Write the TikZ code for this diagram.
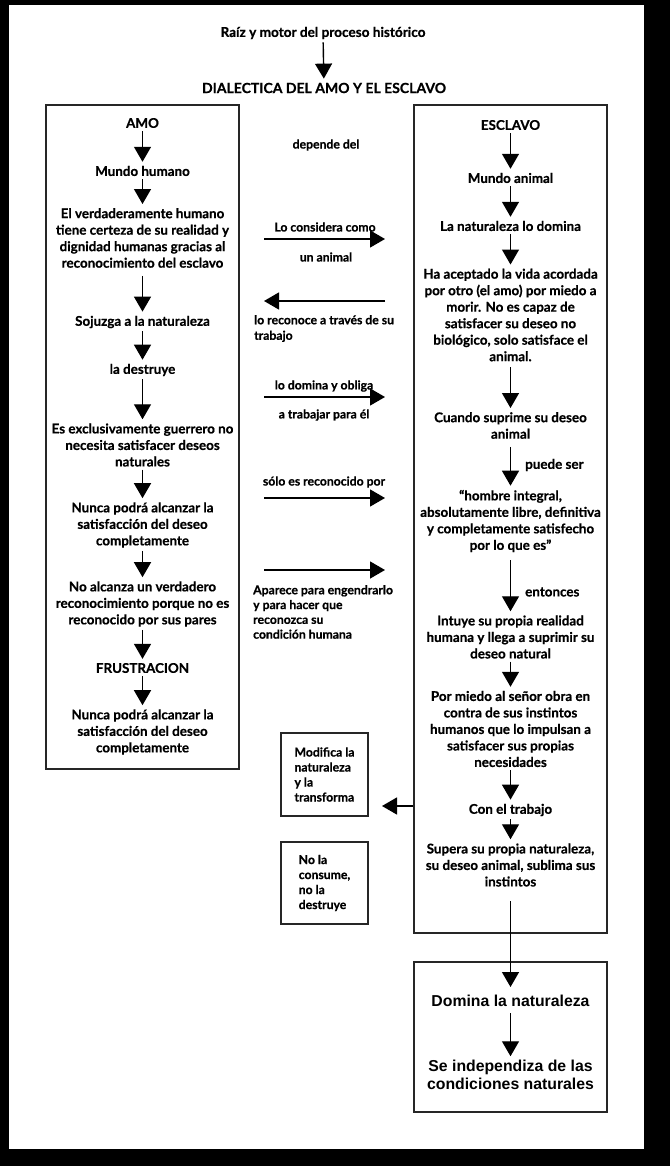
\documentclass[tikz,border=0pt]{standalone}
\usepackage{fontspec}
\usetikzlibrary{arrows.meta}
\newfontfamily\gl{Lato}[BoldFeatures={FakeBold=0.6}]
\newfontfamily\ar{Liberation Sans}
\begin{document}
\begin{tikzpicture}[x=1pt,y=-1pt,
  t/.style={font=\gl\bfseries\fontsize{13.4}{16.5}\selectfont, align=center, inner sep=0pt},
  ts/.style={font=\gl\bfseries\fontsize{12.2}{15.5}\selectfont, inner sep=0pt},
  tb/.style={font=\ar\bfseries\fontsize{15.8}{17.5}\selectfont, align=center, inner sep=0pt},
  frame/.style={draw=black!85, line width=1.6pt, inner sep=0pt},
  arr/.style={draw, line width=1.4pt, -{Triangle[length=15pt,width=17pt]}},
  varr/.style={arr, shorten <=3pt, shorten >=4pt}]
\fill[black] (0,0) rectangle (670,1166);
\fill[white] (9,5) rectangle (644,1149);
\useasboundingbox (0,0) rectangle (670,1166);

% title
\node[t, font=\gl\bfseries\fontsize{13.6}{15}\selectfont] (raiz) at (323,33) {Raíz y motor del proceso histórico};
\node[t, font=\gl\bfseries\fontsize{14}{17}\selectfont] (dial) at (324,88) {DIALECTICA DEL AMO Y EL ESCLAVO};
\draw[varr] (raiz) -- (dial);

% frames
\node[frame, minimum width=193pt, minimum height=664pt] (amobox) at (142.5,437) {};
\node[frame, minimum width=193pt, minimum height=828pt] (escbox) at (510.5,519) {};
\node[frame, minimum width=193pt, minimum height=150pt] (botbox) at (510.5,1037) {};
\node[frame, minimum width=87pt, minimum height=83pt, align=left, font=\gl\bfseries\fontsize{12.2}{15}\selectfont] (modif) at (324.5,774.5) {Modifica la\\naturaleza\\y la\\transforma};
\node[frame, minimum width=87pt, minimum height=82pt, align=left, font=\gl\bfseries\fontsize{12.2}{15}\selectfont] (nola) at (324.5,883) {No la\\consume,\\no la\\destruye};

% AMO column
\node[t] (amo) at (142.5,123) {AMO};
\node[t] (mh) at (142.5,171) {Mundo humano};
\node[t] (vh) at (142.5,238) {El verdaderamente humano\\tiene certeza de su realidad y\\dignidad humanas gracias al\\reconocimiento del esclavo};
\node[t] (soj) at (142.5,322) {Sojuzga a la naturaleza};
\node[t] (des) at (142.5,370) {la destruye};
\node[t] (exc) at (142.5,445) {Es exclusivamente guerrero no\\necesita satisfacer deseos\\naturales};
\node[t] (nun1) at (142.5,525) {Nunca podrá alcanzar la\\satisfacción del deseo\\completamente};
\node[t] (noal) at (142.5,604) {No alcanza un verdadero\\reconocimiento porque no es\\reconocido por sus pares};
\node[t] (fru) at (142.5,668) {FRUSTRACION};
\node[t] (nun2) at (142.5,732) {Nunca podrá alcanzar la\\satisfacción del deseo\\completamente};
\draw[varr] (amo) -- (mh);
\draw[varr] (mh) -- (vh);
\draw[varr, shorten <=8pt] (vh) -- (soj);
\draw[varr] (soj) -- (des);
\draw[varr] (des) -- (exc);
\draw[varr] (exc) -- (nun1);
\draw[varr] (nun1) -- (noal);
\draw[varr] (noal) -- (fru);
\draw[varr] (fru) -- (nun2);

% ESCLAVO column
\node[t] (esc) at (510.5,125) {ESCLAVO};
\node[t] (ma) at (510.5,178) {Mundo animal};
\node[t] (nat) at (510.5,226) {La naturaleza lo domina};
\node[t] (ha) at (510.5,315) {Ha aceptado la vida acordada\\por otro (el amo) por miedo a\\morir. No es capaz de\\satisfacer su deseo no\\biológico, solo satisface el\\animal.};
\node[t] (cs) at (510.5,425.5) {Cuando suprime su deseo\\animal};
\node[t] (hi) at (510.5,521) {“hombre integral,\\absolutamente libre, definitiva\\y completamente satisfecho\\por lo que es”};
\node[t] (int) at (510.5,637) {Intuye su propia realidad\\humana y llega a suprimir su\\deseo natural};
\node[t] (pm) at (510.5,729) {Por miedo al señor obra en\\contra de sus instintos\\humanos que lo impulsan a\\satisfacer sus propias\\necesidades};
\node[t] (con) at (510.5,810) {Con el trabajo};
\node[t] (sup) at (510.5,865) {Supera su propia naturaleza,\\su deseo animal, sublima sus\\instintos};
\node[t, anchor=west] (pue) at (525,465) {puede ser};
\node[t, anchor=west] (ent) at (525,592) {entonces};
\draw[varr] (esc) -- (ma);
\draw[varr] (ma) -- (nat);
\draw[varr] (nat) -- (ha);
\draw[varr, shorten <=6pt] (ha) -- (cs);
\draw[varr, shorten <=8pt] (cs) -- (hi);
\draw[varr, shorten <=8pt] (hi) -- (int);
\draw[varr] (int) -- (pm);
\draw[varr] (pm) -- (con);
\draw[varr] (con) -- (sup);

% bottom box
\node[tb] (dom) at (510.5,1001) {Domina la naturaleza};
\node[tb] (sei) at (510.5,1075) {Se independiza de las\\condiciones naturales};
\draw[varr, shorten <=6pt] (dom) -- (sei);
\coordinate (bstart) at (510.5,901);
\coordinate (btip) at (510.5,987);
\draw[arr] (bstart) -- (btip);

% to Modifica
\coordinate (mtip) at (382,806);
\draw[arr] (escbox.west |- mtip) -- (mtip);

% middle relations
\node[ts] (dep) at (326,145) {depende del};
\node[ts] (lcc) at (325,227) {Lo considera como};
\node[ts] (una) at (326,257) {un animal};
\coordinate (a1s) at (264,239); \coordinate (a1e) at (385,239);
\draw[arr] (a1s) -- (a1e);
\coordinate (a2s) at (385,301); \coordinate (a2e) at (264,301);
\draw[arr] (a2s) -- (a2e);
\node[ts, anchor=north west, align=left] (lrc) at (254,315) {lo reconoce a través de su\\trabajo};
\node[ts] (ldo) at (324,386) {lo domina y obliga};
\coordinate (a3s) at (264,397); \coordinate (a3e) at (385,397);
\draw[arr] (a3s) -- (a3e);
\node[ts] (atr) at (324,415) {a trabajar para él};
\node[ts] (ser) at (324,482) {sólo es reconocido por};
\coordinate (a4s) at (264,498); \coordinate (a4e) at (385,498);
\draw[arr] (a4s) -- (a4e);
\coordinate (a5s) at (264,570); \coordinate (a5e) at (385,570);
\draw[arr] (a5s) -- (a5e);
\node[ts, anchor=north west, align=left, font=\gl\bfseries\fontsize{12.2}{14.8}\selectfont] (apa) at (253,585) {Aparece para engendrarlo\\y para hacer que\\reconozca su\\condición humana};
\end{tikzpicture}
\end{document}
